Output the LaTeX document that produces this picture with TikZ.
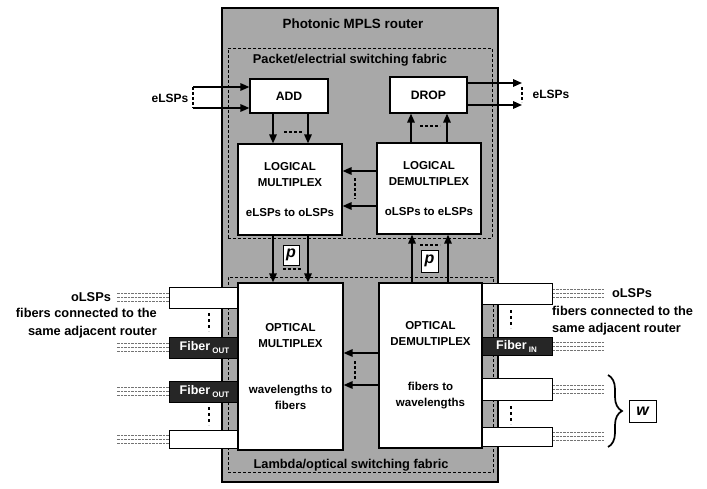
\documentclass[tikz,border=0pt]{standalone}
\usepackage{fontspec}
\setmainfont{Liberation Sans}
\usetikzlibrary{arrows.meta,decorations.pathreplacing}
\begin{document}
\begin{tikzpicture}[x=1pt,y=-1pt,
  box/.style={draw=black,line width=1.2pt,fill=white,inner sep=0pt,align=center,
    font=\bfseries\fontsize{11.5}{16}\selectfont},
  arr/.style={line width=1.6pt,-{Triangle[length=9pt,width=7.5pt]}},
  dotl/.style={line width=2.6pt,dash pattern=on 2.6pt off 2.4pt},
  pdots/.style={line width=2.8pt,dash pattern=on 2.8pt off 3.2pt},
  fab/.style={draw=black,line width=1pt,dash pattern=on 3pt off 2pt},
  port/.style={draw=black,line width=1pt,fill=white,minimum width=71pt,inner sep=0pt},
  dport/.style={port,fill=black!85,text=white,font=\bfseries\fontsize{12.5}{14}\selectfont},
  fib/.style={black!55,line width=1pt,dash pattern=on 2.5pt off 1pt},
  lbl/.style={font=\bfseries\fontsize{12.8}{17.5}\selectfont,inner sep=0pt},
  pbox/.style={draw=black,line width=1pt,fill=white,inner sep=0pt,
    font=\bfseries\itshape\fontsize{16}{16}\selectfont},
]
\useasboundingbox (0,0) rectangle (707,488);
\fill[white] (0,0) rectangle (707,488);

% router and fabrics
\node[draw=black,line width=2pt,fill=black!34,minimum width=276pt,minimum height=474pt,inner sep=0pt] (router) at (360,245) {};
\node[fab,minimum width=264pt,minimum height=190pt,inner sep=0pt] (pfab) at (360,143) {};
\node[fab,minimum width=265pt,minimum height=195pt,inner sep=0pt] (lfab) at (360.5,374.5) {};
\node[font=\bfseries\fontsize{13.4}{16}\selectfont,inner sep=0pt] (title) at (353,24) {Photonic MPLS router};
\node[lbl] (pklbl) at (350,60) {Packet/electrial switching fabric};
\node[lbl] (lamlbl) at (351,465) {Lambda/optical switching fabric};

% left ports
\node[port,minimum height=21pt] (L1) at (204.5,297.5) {};
\node[dport,minimum height=21pt] (L2) at (204.5,347.5) {Fiber\,{\fontsize{8}{8}\selectfont\raisebox{-3pt}{OUT}}};
\node[dport,minimum height=21pt] (L3) at (204.5,391.5) {Fiber\,{\fontsize{8}{8}\selectfont\raisebox{-3pt}{OUT}}};
\node[port,minimum height=18pt] (L4) at (204.5,439) {};
% right ports
\node[port,minimum height=21pt] (R1) at (516.5,293.5) {};
\node[dport,minimum height=18pt] (R2) at (516.5,346) {Fiber\,{\fontsize{8}{8}\selectfont\raisebox{-3pt}{IN}}};
\node[port,minimum height=22pt] (R3) at (516.5,389) {};
\node[port,minimum height=19pt] (R4) at (516.5,436.5) {};

% fiber lines
\foreach \p in {L1,L2,L3,L4}{
  \foreach \d in {4,0,-4}{
    \draw[fib] ([yshift=\d pt]\p.west) -- ++(-52,0);
  }
}
\foreach \p in {R1,R2,R3,R4}{
  \foreach \d in {4,0,-4}{
    \draw[fib] ([yshift=\d pt]\p.east) -- ++(52,0);
  }
}

% port dots
\coordinate (ld1a) at (209,313); \coordinate (ld1b) at (209,331);
\coordinate (ld2a) at (209,407); \coordinate (ld2b) at (209,425);
\coordinate (rd1a) at (511,310); \coordinate (rd1b) at (511,328);
\coordinate (rd2a) at (511,406); \coordinate (rd2b) at (511,424);
\draw[pdots] (ld1a) -- (ld1b);
\draw[pdots] (ld2a) -- (ld2b);
\draw[pdots] (rd1a) -- (rd1b);
\draw[pdots] (rd2a) -- (rd2b);

% main boxes
\node[box,minimum width=78pt,minimum height=34pt,font=\bfseries\fontsize{12.2}{14}\selectfont] (add) at (289,96) {ADD};
\node[box,minimum width=77pt,minimum height=36pt,font=\bfseries\fontsize{12.2}{14}\selectfont] (drop) at (428.5,95) {DROP};
\node[box,minimum width=104pt,minimum height=91pt] (lmux) at (290,189.5) {LOGICAL\\MULTIPLEX\\[14pt]eLSPs to oLSPs};
\node[box,minimum width=104pt,minimum height=91pt] (ldemux) at (429,188.5) {LOGICAL\\DEMULTIPLEX\\[14pt]oLSPs to eLSPs};
\node[box,minimum width=105pt,minimum height=167pt] (omux) at (290.5,366.5) {OPTICAL\\MULTIPLEX\\[30pt]wavelengths to\\fibers};
\node[box,minimum width=103pt,minimum height=165pt] (odemux) at (430.5,365.5) {OPTICAL\\DEMULTIPLEX\\[29pt]fibers to\\wavelengths};

% eLSPs in/out
\coordinate (ein1) at (193,87); \coordinate (ein2) at (193,108);
\coordinate (eout1) at (522,83); \coordinate (eout2) at (522,105);
\node[lbl,font=\bfseries\fontsize{12}{14}\selectfont] (elin) at (170,98) {eLSPs};
\node[lbl,font=\bfseries\fontsize{12}{14}\selectfont] (elout) at (551,94) {eLSPs};
\draw[arr] (ein1) -- (ein1 -| add.west);
\draw[arr] (ein2) -- (ein2 -| add.west);
\draw[dotl] (ein1) -- (ein2);
\draw[arr] (eout1 -| drop.east) -- (eout1);
\draw[arr] (eout2 -| drop.east) -- (eout2);
\draw[dotl] ([yshift=-4pt]eout1) -- ([yshift=3pt]eout2);

% add -> logical mux
\draw[arr] ([xshift=-16pt]add.south) -- ([xshift=-16pt]add.south |- lmux.north);
\draw[arr] ([xshift=19pt]add.south) -- ([xshift=19pt]add.south |- lmux.north);
\coordinate (d1a) at (284,132); \coordinate (d1b) at (303,132);
\draw[dotl] (d1a) -- (d1b);

% logical demux -> drop
\draw[arr] ([xshift=-18pt]ldemux.north) -- ([xshift=-18pt]ldemux.north |- drop.south);
\draw[arr] ([xshift=18pt]ldemux.north) -- ([xshift=18pt]ldemux.north |- drop.south);
\coordinate (d2a) at (420,126); \coordinate (d2b) at (440,126);
\draw[dotl] (d2a) -- (d2b);

% logical demux -> logical mux
\draw[arr] ([yshift=17.5pt]ldemux.west) -- ([yshift=17.5pt]ldemux.west -| lmux.east);
\draw[arr] ([yshift=-17.5pt]ldemux.west) -- ([yshift=-17.5pt]ldemux.west -| lmux.east);
\coordinate (d3a) at (355,178); \coordinate (d3b) at (355,199);
\draw[dotl] (d3a) -- (d3b);

% logical mux -> optical mux
\draw[arr] ([xshift=-17pt]lmux.south) -- ([xshift=-17pt]lmux.south |- omux.north);
\draw[arr] ([xshift=18pt]lmux.south) -- ([xshift=18pt]lmux.south |- omux.north);
\coordinate (d4a) at (283,269); \coordinate (d4b) at (302,269);
\draw[dotl] (d4a) -- (d4b);
\node[pbox,minimum width=16pt,minimum height=20pt] (p1) at (291,255) {p};

% optical demux -> logical demux
\draw[arr] ([xshift=-18.5pt]odemux.north) -- ([xshift=-18.5pt]odemux.north |- ldemux.south);
\draw[arr] ([xshift=17.5pt]odemux.north) -- ([xshift=17.5pt]odemux.north |- ldemux.south);
\coordinate (d5a) at (420,245); \coordinate (d5b) at (440,245);
\draw[dotl] (d5a) -- (d5b);
\node[pbox,minimum width=17pt,minimum height=22pt] (p2) at (429.5,261) {p};

% optical demux -> optical mux
\draw[arr] ([yshift=12.5pt]odemux.west) -- ([yshift=12.5pt]odemux.west -| omux.east);
\draw[arr] ([yshift=-19.5pt]odemux.west) -- ([yshift=-19.5pt]odemux.west -| omux.east);
\coordinate (d6a) at (355,361); \coordinate (d6b) at (355,380);
\draw[dotl] (d6a) -- (d6b);

% side labels
\node[lbl] (lolsp) at (91,297) {oLSPs};
\node[lbl,anchor=east,align=right] (lfib) at (157,323) {fibers connected to the\\same adjacent router};
\node[lbl] (rolsp) at (632,293) {oLSPs};
\node[lbl,anchor=west,align=left] (rfib) at (552,320.5) {fibers connected to the\\same adjacent router};

% brace and w
\coordinate (bra) at (608,375); \coordinate (brb) at (608,447);
\draw[decorate,decoration={brace,amplitude=14pt},line width=1.7pt] (bra) -- (brb);
\node[pbox,minimum width=27pt,minimum height=22pt] (w) at (642.5,411) {w};
\end{tikzpicture}
\end{document}
